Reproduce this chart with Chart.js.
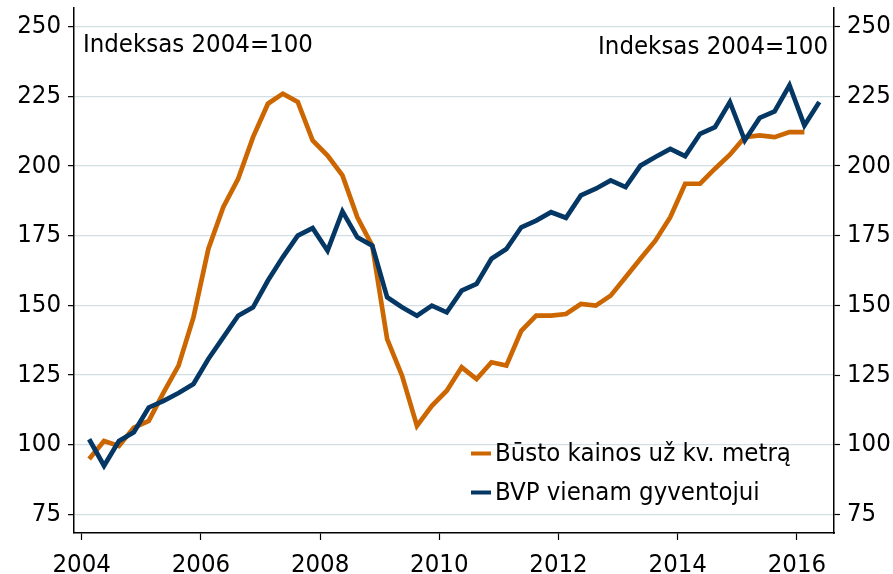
<!DOCTYPE html>
<html>
<head>
<meta charset="utf-8">
<script src="https://cdn.jsdelivr.net/npm/chart.js@4.4.1/dist/chart.umd.min.js"></script>
<style>
  html, body { margin: 0; padding: 0; background: #ffffff; }
  #wrap { width: 893px; height: 574px; position: relative; }
  canvas { display: block; }
</style>
</head>
<body>
<div id="wrap"><canvas id="c" width="893" height="574"></canvas></div>
<script>
// ---- data (quarterly, index 2004 = 100) ----
const quarters = [
  "2004Q1","2004Q2","2004Q3","2004Q4","2005Q1","2005Q2","2005Q3","2005Q4",
  "2006Q1","2006Q2","2006Q3","2006Q4","2007Q1","2007Q2","2007Q3","2007Q4",
  "2008Q1","2008Q2","2008Q3","2008Q4","2009Q1","2009Q2","2009Q3","2009Q4",
  "2010Q1","2010Q2","2010Q3","2010Q4","2011Q1","2011Q2","2011Q3","2011Q4",
  "2012Q1","2012Q2","2012Q3","2012Q4","2013Q1","2013Q2","2013Q3","2013Q4",
  "2014Q1","2014Q2","2014Q3","2014Q4","2015Q1","2015Q2","2015Q3","2015Q4",
  "2016Q1","2016Q2"
];
const bustoKainos = [
  94.9, 101.4, 99.6, 106.2, 108.6, 118.8, 128.4, 145.7,
  170.2, 185.2, 195.4, 210.3, 222.3, 225.9, 222.9, 209.1,
  203.7, 196.6, 181.6, 171.4, 137.9, 124.8, 106.8, 114.0,
  119.4, 127.8, 123.6, 129.6, 128.4, 140.9, 146.3, 146.3,
  146.9, 150.5, 149.9, 153.5, 160.1, 166.7, 173.2, 181.6,
  193.6, 193.6, 199.0, 204.0, 210.3, 210.9, 210.3, 212.1,
  212.1
];
const bvpGyventojui = [
  102.0, 92.5, 101.4, 104.5, 113.4, 115.8, 118.6, 121.8,
  130.8, 138.5, 146.3, 149.3, 158.9, 167.3, 175.0, 177.7,
  169.6, 183.7, 174.4, 171.4, 152.9, 149.3, 146.3, 149.9,
  147.5, 155.3, 157.7, 166.7, 170.2, 178.0, 180.4, 183.4,
  181.4, 189.4, 191.8, 194.8, 192.4, 200.1, 203.2, 206.1,
  203.5, 211.5, 213.9, 222.9, 209.1, 217.2, 219.5, 228.9,
  214.5, 222.9
];
const seriesLabels = ["Būsto kainos už kv. metrą", "BVP vienam gyventojui"];
const xTickValues = [2004, 2006, 2008, 2010, 2012, 2014, 2016];
const yTickValues = [75, 100, 125, 150, 175, 200, 225, 250];
const noteText = "Indeksas 2004=100";

// ---- style ----
const ORANGE = "#cc6600";
const NAVY = "#053764";
const GRID = "#d3dde4";
const FONT_FAMILY = "'DejaVu Sans Condensed', 'DejaVu Sans', sans-serif";
const FONT_SIZE = 25.5;

function quarterToX(q) {
  const y = parseInt(q.slice(0, 4), 10);
  const n = parseInt(q.slice(5), 10);
  return y + (n - 1) / 4 + 0.125;
}
function toPoints(values) {
  return values.map((v, i) => ({ x: quarterToX(quarters[i]), y: v }));
}

const Y_MIN = 68.4, Y_MAX = 256.6;
const X_MIN = 2003.871, X_MAX = 2016.622;

const overlayPlugin = {
  id: 'overlay',
  afterDatasetsDraw(chart) {
    const ctx = chart.ctx;
    const area = chart.chartArea;
    ctx.save();
    ctx.font = FONT_SIZE + "px " + FONT_FAMILY;
    ctx.fillStyle = "#000";
    ctx.textBaseline = "middle";
    // notes
    ctx.textAlign = "left";
    ctx.fillText(noteText, area.left + 9, 45.5);
    ctx.textAlign = "right";
    ctx.fillText(noteText, area.right - 6, 47);
    // legend
    const rows = [453.5, 492.5];
    chart.data.datasets.forEach((ds, i) => {
      const y = rows[i];
      ctx.strokeStyle = ds.borderColor;
      ctx.lineWidth = 4;
      ctx.lineCap = "butt";
      ctx.beginPath();
      ctx.moveTo(471, y);
      ctx.lineTo(491, y);
      ctx.stroke();
      ctx.textAlign = "left";
      ctx.fillStyle = "#000";
      ctx.fillText(ds.label, 495, y + 1);
    });
    ctx.restore();
  }
};

const tickFont = { family: FONT_FAMILY, size: FONT_SIZE };
function noPad(s) { s.paddingTop = 0; s.paddingBottom = 0; s.paddingLeft = 0; s.paddingRight = 0; }

new Chart(document.getElementById('c'), {
  type: 'line',
  data: {
    datasets: [
      { label: seriesLabels[0], data: toPoints(bustoKainos), borderColor: ORANGE, backgroundColor: ORANGE,
        borderWidth: 4.7, pointRadius: 0, tension: 0, fill: false, order: 2 },
      { label: seriesLabels[1], data: toPoints(bvpGyventojui), borderColor: NAVY, backgroundColor: NAVY,
        borderWidth: 4.7, pointRadius: 0, tension: 0, fill: false, order: 1 }
    ]
  },
  options: {
    responsive: false,
    animation: false,
    devicePixelRatio: 1,
    layout: { padding: { top: 8, left: 0, right: 0, bottom: 0 } },
    plugins: { legend: { display: false }, tooltip: { enabled: false } },
    scales: {
      x: {
        type: 'linear', position: 'bottom', min: X_MIN, max: X_MAX,
        afterBuildTicks(s) { s.ticks = xTickValues.map(v => ({ value: v })); },
        afterFit(s) { s.height = 41; noPad(s); },
        grid: { drawOnChartArea: false, drawTicks: true, tickLength: 7, tickColor: "#000", tickWidth: 1.2 },
        border: { display: true, color: "#000", width: 1.5 },
        ticks: { font: tickFont, color: "#000", padding: 10, maxRotation: 0, autoSkip: false,
                 callback: v => String(v) }
      },
      y: {
        type: 'linear', position: 'left', min: Y_MIN, max: Y_MAX,
        afterBuildTicks(s) { s.ticks = yTickValues.map(v => ({ value: v })); },
        afterFit(s) { s.width = 74; noPad(s); },
        grid: { drawOnChartArea: true, color: GRID, lineWidth: 1.3, drawTicks: true, tickLength: 6,
                tickColor: "#000", tickWidth: 1.2 },
        border: { display: true, color: "#000", width: 1.5 },
        ticks: { font: tickFont, color: "#000", padding: 7, autoSkip: false, callback: v => String(v) }
      },
      y2: {
        type: 'linear', position: 'right', min: Y_MIN, max: Y_MAX,
        afterBuildTicks(s) { s.ticks = yTickValues.map(v => ({ value: v })); },
        afterFit(s) { s.width = 59; noPad(s); },
        grid: { drawOnChartArea: false, drawTicks: true, tickLength: 6, tickColor: "#000", tickWidth: 1.2 },
        border: { display: true, color: "#000", width: 1.5 },
        ticks: { font: tickFont, color: "#000", padding: 7, autoSkip: false, callback: v => String(v) }
      }
    }
  },
  plugins: [overlayPlugin]
});
</script>
</body>
</html>
